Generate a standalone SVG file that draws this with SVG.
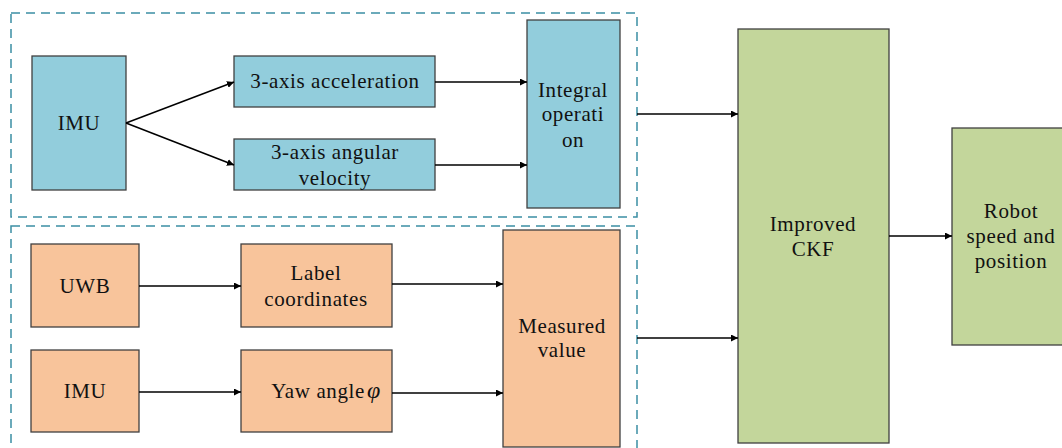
<svg xmlns="http://www.w3.org/2000/svg" width="1062" height="448" viewBox="0 0 1062 448">
<style>
.b{fill:#92CDDC;stroke:#404040;stroke-width:1.3}
.o{fill:#F8C49B;stroke:#404040;stroke-width:1.3}
.g{fill:#C3D69B;stroke:#404040;stroke-width:1.3}
.d{fill:none;stroke:#3B8FA4;stroke-width:1.5;stroke-dasharray:9 6}
.c{fill:none;stroke:#000;stroke-width:1.5;marker-end:url(#a)}
text{font-family:"Liberation Serif","DejaVu Serif",serif;font-size:21px;letter-spacing:0.6px;fill:#111;text-anchor:middle}
</style>
<defs>
<marker id="a" viewBox="0 0 10 10" refX="10" refY="5" markerWidth="7" markerHeight="7" markerUnits="userSpaceOnUse" orient="auto">
<path d="M0,0 L10,5 L0,10 z" fill="#000"/>
</marker>
</defs>
<g id="groups">
<rect class="d" x="11" y="13" width="626" height="204"/>
<rect class="d" x="11" y="226" width="626" height="240"/>
</g>
<g id="imu1"><rect class="b" x="32" y="56" width="94" height="134"/><text x="79" y="130">IMU</text></g>
<g id="acc"><rect class="b" x="234" y="56" width="201" height="51"/><text x="335" y="88">3-axis acceleration</text></g>
<g id="ang"><rect class="b" x="234" y="139" width="201" height="51"/><text x="335" y="159">3-axis angular</text><text x="335" y="185">velocity</text></g>
<g id="integral"><rect class="b" x="527" y="20" width="93" height="188"/><text x="573" y="97">Integral</text><text x="573" y="121">operati</text><text x="573" y="147">on</text></g>
<g id="uwb"><rect class="o" x="31" y="244" width="108" height="83"/><text x="85" y="293">UWB</text></g>
<g id="imu2"><rect class="o" x="31" y="350" width="108" height="82"/><text x="85" y="398">IMU</text></g>
<g id="label"><rect class="o" x="241" y="244" width="151" height="83"/><text x="316" y="280">Label</text><text x="316" y="306">coordinates</text></g>
<g id="yaw"><rect class="o" x="241" y="350" width="151" height="82"/><text x="326" y="398">Yaw angle<tspan font-style="italic" font-size="24" dx="2">φ</tspan></text></g>
<g id="measured"><rect class="o" x="503" y="230" width="117" height="217"/><text x="562" y="333">Measured</text><text x="562" y="357">value</text></g>
<g id="ckf"><rect class="g" x="738" y="29" width="151" height="414"/><text x="813" y="231">Improved</text><text x="813" y="256">CKF</text></g>
<g id="robot"><rect class="g" x="952" y="128" width="112" height="217"/><text x="1011" y="218">Robot</text><text x="1011" y="243">speed and</text><text x="1011" y="268">position</text></g>
<g id="connectors">
<path class="c" d="M126,123 L234,82"/>
<path class="c" d="M126,123 L234,165"/>
<path class="c" d="M435,82 L527,82"/>
<path class="c" d="M435,165 L527,165"/>
<path class="c" d="M637,114 L738,114"/>
<path class="c" d="M139,286 L241,286"/>
<path class="c" d="M139,392 L241,392"/>
<path class="c" d="M392,284 L503,284"/>
<path class="c" d="M392,393 L503,393"/>
<path class="c" d="M637,338 L738,338"/>
<path class="c" d="M889,236 L952,236"/>
</g>
</svg>
